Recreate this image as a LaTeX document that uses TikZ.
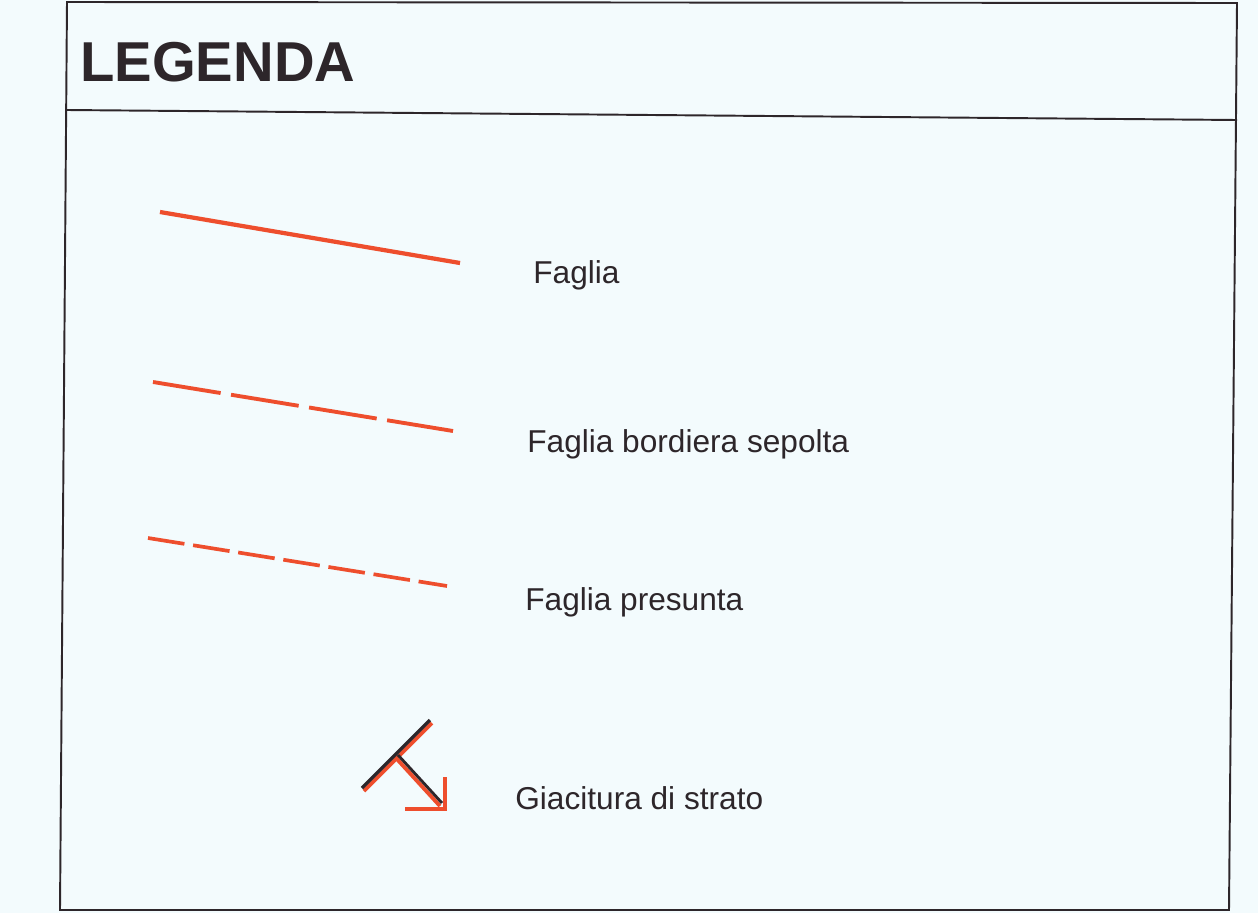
\documentclass[tikz,border=0pt]{standalone}
\usepackage{fontspec}
\setmainfont{Liberation Sans}
\definecolor{rossofaglia}{RGB}{238,78,45}
\definecolor{nerotratto}{RGB}{45,38,42}
\definecolor{carta}{RGB}{243,251,253}
\tikzset{%
	cornice/.style={nerotratto,line width=1.1pt},
	faglia/.style={rossofaglia,line width=2.4pt},
	sepolta/.style={faglia,line width=2.2pt,dash pattern=on 39pt off 6pt},
	presunta/.style={faglia,line width=2.1pt,dash pattern=on 21pt off 5pt},
	voce/.style={anchor=west,inner sep=0pt,text=nerotratto,font=\fontsize{18}{22}\selectfont},
}
\begin{document}
\begin{tikzpicture}[x=0.02cm,y=-0.02cm]
	\fill[carta] (0,0) rectangle (1258,913);
	\useasboundingbox (0,0) rectangle (1258,913);
	\draw[cornice] (67,2) -- (1237,3) -- (1229,910) -- (60,910) -- cycle;
	\draw[cornice] (67,110) -- (1237,120);
	\node[anchor=west,inner sep=0pt,text=nerotratto,font=\fontsize{32}{36}\selectfont\bfseries] (titolo) at (80,62) {LEGENDA};
	% faglia
	\coordinate (f1) at (160,212); \coordinate (f2) at (460,263);
	\draw[faglia] (f1) -- (f2);
	\node[voce] (tFaglia) at (533,275) {Faglia};
	% faglia bordiera sepolta
	\coordinate (s1) at (153,382); \coordinate (s2) at (453,431);
	\draw[sepolta] (s1) -- (s2);
	\node[voce] (tSepolta) at (527,444) {Faglia bordiera sepolta};
	% faglia presunta
	\coordinate (p1) at (148,538); \coordinate (p2) at (447,586);
	\draw[presunta] (p1) -- (p2);
	\node[voce] (tPresunta) at (525,602) {Faglia presunta};
	% giacitura
	\coordinate (g1) at (362,788); \coordinate (g2) at (430,720);
	\coordinate (g3) at (397,756); \coordinate (g4) at (441,804);
	\draw[faglia,line width=2.2pt] ([shift={(2,3)}]g1) -- ([shift={(2,3)}]g2);
	\draw[nerotratto,line width=2pt] (g1) -- (g2);
	\draw[faglia,line width=2.2pt] ([shift={(-1,2)}]g3) -- ([shift={(-1,2)}]g4);
	\draw[nerotratto,line width=1.6pt] ([shift={(1,-1)}]g3) -- ([shift={(1,-1)}]g4);
	\draw[faglia,line width=2.2pt] (405,809) -- (445,809) -- (445,777);
	\node[voce] (tGiacitura) at (515,798) {Giacitura di strato};
\end{tikzpicture}
\end{document}
